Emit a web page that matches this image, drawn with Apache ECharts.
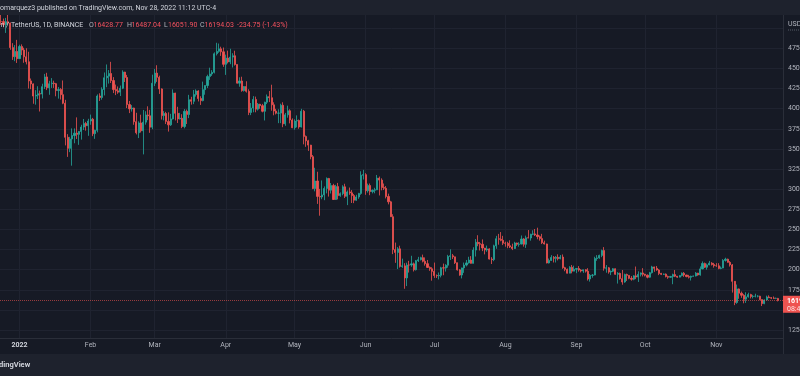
<!DOCTYPE html>
<html>
<head>
<meta charset="utf-8">
<title>BTCUSDT 1D</title>
<script src="https://cdn.jsdelivr.net/npm/echarts@6/dist/echarts.min.js"></script>
<style>
  html, body { margin: 0; padding: 0; background: #161a25; }
  #main { width: 800px; height: 376px; }
</style>
</head>
<body>
<div id="main"></div>
<script>
// Bitcoin / TetherUS, 1D, Binance - values
const firstDay = '2021-12-23';
const firstOpen = 48613;

// daily closes, one line per month (Dec 23 2021 .. Nov 28 2022)
const closes = [
  50838, 50821, 50429, 50809, 50640, 47588, 46464, 47120, 46216,
  47722, 47286, 46446, 45833, 43451, 43082, 41566, 41680, 41864, 41822, 42736, 43946, 42592, 43099, 43177, 43113, 42250, 42375, 41744, 40680, 36445, 35071, 36244, 36660, 36958, 36809, 37160, 37716, 38166, 37881, 38466,
  38690, 36896, 37311, 41575, 41382, 42380, 43840, 44043, 44373, 43495, 42373, 42217, 42053, 42535, 44544, 43873, 40515, 39974, 40080, 38386, 37008, 38230, 37250, 38327, 39219, 39116, 37699, 43160,
  44421, 43892, 42454, 39137, 39400, 38420, 37988, 38730, 41941, 39422, 38729, 38807, 37777, 39671, 39280, 41114, 40917, 41757, 42201, 41262, 41002, 42364, 42882, 43991, 44313, 44511, 46827, 47122, 47434, 47067, 45510,
  46283, 45811, 46407, 46580, 45497, 43170, 43444, 42252, 42753, 42158, 39530, 40074, 41147, 39942, 40552, 40378, 39678, 40801, 41493, 41358, 40480, 39709, 39441, 39450, 40426, 38112, 39235, 39742, 38596, 37630,
  38468, 38525, 37729, 39690, 36552, 36013, 35472, 34038, 30076, 31017, 29103, 29029, 29287, 30086, 31328, 29874, 30444, 28715, 30319, 29201, 29445, 30293, 29109, 29655, 29542, 29201, 28629, 29031, 29469, 31734, 31802,
  29805, 30452, 29700, 29865, 29919, 31373, 31125, 30204, 30110, 29091, 28424, 26574, 22487, 22136, 22583, 20401, 20468, 18970, 20574, 20573, 20723, 19987, 21110, 21237, 21491, 21038, 20743, 20278, 20105, 19785,
  19269, 19243, 19297, 20231, 20190, 20548, 21637, 21731, 21592, 20861, 19971, 19329, 20212, 20569, 20837, 21191, 20780, 22432, 23397, 23224, 23154, 22684, 22451, 22579, 21310, 21254, 22953, 23843, 23774, 23643, 23293,
  23269, 22978, 22818, 22622, 23312, 23150, 23174, 23810, 23149, 23954, 23935, 24403, 24442, 24306, 24102, 23855, 23342, 23191, 20834, 21140, 21516, 21400, 21529, 21368, 21560, 20241, 20037, 19555, 20285, 19811, 20050,
  20131, 19951, 19832, 19986, 19812, 18837, 19290, 19329, 21381, 21460, 21769, 22370, 20173, 20226, 19701, 19803, 20113, 19416, 19537, 18875, 18461, 19401, 19289, 18921, 18807, 19227, 19079, 19412, 19591, 19422,
  19310, 19056, 19623, 20336, 20160, 19955, 19531, 19417, 19446, 19141, 19051, 19157, 19382, 19185, 19068, 19268, 19550, 19334, 19139, 19053, 19172, 19208, 19567, 19345, 20095, 20771, 20295, 20591, 20809, 20627, 20490,
  20483, 20151, 20207, 21148, 21300, 20905, 20591, 18547, 15922, 17601, 17070, 16812, 16330, 16619, 16900, 16663, 16692, 16699, 16700, 16280, 15781, 16226, 16604, 16522, 16458, 16428, 16428.77, 16194.03
];

const highs = [
  51375, 51868, 51200, 51280, 52088, 50704, 48140, 47900, 48548,
  47944, 47990, 47570, 47505, 47070, 43748, 43145, 42300, 42786, 42248, 43100, 44322, 44458, 43459, 43800, 43478, 43200, 42691, 42559, 43505, 41100, 36835, 36499, 37550, 37545, 38919, 37234, 38000, 38720, 38359, 38744,
  39265, 38855, 37387, 41772, 41913, 42656, 44500, 45492, 44799, 45821, 43920, 42992, 42760, 42876, 44769, 44581, 44198, 40959, 40444, 40125, 39494, 38429, 39249, 39843, 39683, 40295, 39855, 44225,
  44949, 45400, 44101, 42527, 39694, 39605, 39547, 39362, 42400, 41977, 40236, 39486, 39310, 39947, 39887, 41718, 41478, 42325, 42400, 42296, 41544, 43361, 42893, 44220, 45094, 44792, 46999, 48190, 48096, 47700, 47600,
  46720, 47213, 47444, 46890, 47200, 45507, 43900, 43970, 42800, 43410, 42414, 40699, 41561, 41500, 40709, 40600, 40595, 40867, 41760, 42199, 42976, 40795, 39980, 39927, 40616, 40797, 39474, 40372, 39925, 38795,
  38675, 39167, 38651, 39980, 39845, 36666, 36129, 35507, 34243, 32658, 32162, 30032, 31083, 30343, 31460, 31400, 30765, 30666, 30545, 30777, 29600, 30487, 30671, 29839, 30200, 29887, 29395, 29300, 29539, 32222, 32399,
  31982, 30690, 30700, 29950, 30170, 31765, 31569, 31345, 30700, 30385, 29440, 28550, 26890, 23363, 22800, 22976, 21365, 20800, 20864, 21090, 21723, 20880, 21200, 21587, 21600, 21868, 21520, 21200, 20400, 20300,
  20876, 19400, 19650, 20353, 20750, 20675, 21838, 22527, 21950, 21600, 20880, 20060, 20250, 20880, 21200, 21600, 21680, 22780, 23800, 24276, 23440, 23756, 22700, 22990, 22660, 21550, 23100, 24199, 24442, 24668, 24200,
  23476, 23465, 23647, 23223, 23460, 23354, 23400, 24245, 23920, 24226, 24918, 24456, 24890, 25047, 25211, 24247, 24447, 23602, 23230, 21382, 21800, 21690, 21690, 21900, 21819, 21886, 20350, 20141, 20430, 20580, 20490,
  20200, 20440, 20055, 20000, 20058, 20180, 19460, 19450, 21600, 21800, 21860, 22488, 22800, 20570, 20330, 19900, 20190, 20150, 19690, 19630, 19956, 19500, 19500, 19310, 19200, 19300, 20385, 19790, 19645, 20185,
  19485, 19395, 19720, 20475, 20365, 20456, 20060, 19600, 19515, 19525, 19260, 19220, 19500, 19950, 19212, 19300, 19650, 19700, 19350, 19350, 19250, 19260, 19700, 19600, 20400, 21020, 20875, 20750, 21085, 20930, 20840,
  20800, 20800, 20393, 21302, 21480, 21365, 21070, 20700, 18590, 18150, 17660, 17280, 16950, 17190, 17134, 17000, 16870, 17010, 16820, 16750, 16290, 16300, 16770, 16810, 16600, 16666, 16530, 16487.04
];

const lows = [
  48050, 50400, 50100, 49412, 50449, 47313, 46060, 45900, 45678,
  46208, 46654, 45700, 45500, 42500, 42420, 40610, 40501, 41200, 39650, 41268, 42447, 42311, 41725, 42578, 42578, 41540, 41251, 41138, 40553, 35440, 34008, 34601, 32917, 35701, 36234, 35507, 36155, 37350, 37268, 36632,
  38000, 36586, 36250, 37055, 40956, 41116, 41645, 42666, 43117, 43187, 41938, 41688, 41850, 41570, 42427, 43315, 40073, 39450, 39639, 38000, 36800, 36350, 37036, 34322, 38014, 38573, 37000, 37450,
  42809, 43334, 41832, 38650, 38550, 38088, 37155, 37855, 38656, 38539, 38223, 38660, 37578, 37555, 38098, 38828, 40500, 40565, 41500, 40900, 40467, 40911, 41734, 42560, 43579, 44070, 44382, 46610, 46944, 46560, 45200,
  44200, 45620, 45530, 45118, 45353, 43121, 42727, 42107, 42125, 42000, 39200, 39200, 39551, 39551, 39766, 39991, 39546, 38536, 40571, 40820, 39751, 39177, 39285, 38200, 38200, 37702, 37870, 38881, 38175, 37578,
  37386, 37680, 37507, 37662, 35570, 35258, 34758, 33713, 30000, 29730, 28170, 26700, 28751, 28630, 29480, 29075, 29460, 28654, 28670, 28730, 29055, 29240, 28892, 28019, 29295, 28282, 28261, 28552, 28800, 29300, 31200,
  29301, 29570, 29250, 29477, 29487, 29880, 29218, 29854, 29892, 28850, 28110, 26560, 21925, 20846, 20070, 20256, 20223, 17622, 17960, 19637, 20348, 19770, 19890, 20950, 21140, 20900, 20500, 20200, 19850, 18630,
  18975, 18966, 18780, 19036, 19305, 19760, 20240, 21200, 21320, 20700, 19880, 19240, 18910, 19600, 20400, 20750, 20750, 20760, 21630, 22909, 22380, 22300, 21900, 22220, 21250, 20700, 21050, 22588, 23100, 23525, 23050,
  22850, 22660, 22680, 22430, 22586, 22950, 22850, 23150, 22860, 22700, 23900, 23600, 24290, 24180, 23773, 23600, 23180, 23130, 20780, 20761, 21070, 20890, 20889, 21150, 21280, 20100, 19800, 19520, 19600, 19540, 19800,
  19560, 19753, 19650, 19600, 19635, 18640, 18511, 19000, 19300, 21100, 21350, 21550, 19870, 19620, 19500, 19320, 19700, 19360, 18270, 18750, 18125, 18370, 18600, 18810, 18630, 18680, 18820, 18471, 19150, 19155,
  19160, 18920, 19000, 19520, 19730, 19860, 19320, 19325, 19330, 19030, 18860, 18975, 18190, 19070, 18980, 19050, 19160, 19100, 19050, 18900, 18650, 19140, 19160, 19250, 19250, 20050, 20200, 20000, 20550, 20520, 20250,
  20350, 20050, 20050, 20180, 21000, 20860, 20380, 17150, 15588, 15755, 16380, 16500, 15815, 15870, 16520, 16420, 16420, 16550, 16550, 16200, 15476, 15700, 16170, 16450, 16340, 16360, 16380, 16051.90
];

const monthStarts = ['2022-01-01', '2022-02-01', '2022-03-01', '2022-04-01', '2022-05-01', '2022-06-01',
                     '2022-07-01', '2022-08-01', '2022-09-01', '2022-10-01', '2022-11-01'];
const monthLabels = ['2022', 'Feb', 'Mar', 'Apr', 'May', 'Jun', 'Jul', 'Aug', 'Sep', 'Oct', 'Nov'];
const priceTicks = [12500, 15000, 17500, 20000, 22500, 25000, 27500, 30000, 32500, 35000,
                    37500, 40000, 42500, 45000, 47500, 50000];

const DAY = 86400000;
const t0 = Date.parse(firstDay + 'T00:00:00Z');
const monthTimes = monthStarts.map(function (d) { return Date.parse(d + 'T00:00:00Z'); });

const candles = closes.map(function (c, i) {
    // market trades 24/7, each day opens where the previous one closed
    const o = i === 0 ? firstOpen : closes[i - 1];
    return [t0 + i * DAY, o, c, Math.min(lows[i], o, c), Math.max(highs[i], o, c)];
});
const lastClose = closes[closes.length - 1];

const UP = '#26a69a', DOWN = '#ef5350';
const TXT = '#b2b5be', GRID = '#1f2330', LINE = '#2a2e39';
const FONT = 'Roboto, "Noto Sans", sans-serif';

const chart = echarts.init(document.getElementById('main'), null, { renderer: 'canvas' });

const jan1 = Date.UTC(2022, 0, 1);

chart.setOption({
    backgroundColor: '#161a25',
    animation: false,
    grid: { left: 0, right: 17, top: 15, bottom: 38, outerBoundsMode: 'none', containLabel: false },
    xAxis: {
        // timestamps on a value axis so the month ticks can be set by hand
        type: 'value',
        min: jan1 - 8.51 * DAY,
        max: jan1 + 333.1 * DAY,
        axisLine: { show: true, lineStyle: { color: LINE } },
        axisTick: { show: false, customValues: monthTimes },
        axisLabel: {
            customValues: monthTimes,
            margin: 4,
            color: TXT,
            fontSize: 7,
            fontFamily: FONT,
            formatter: function (v) {
                const k = monthTimes.indexOf(v);
                if (k === 0) return '{y|' + monthLabels[0] + '}';
                return k >= 0 ? monthLabels[k] : '';
            },
            rich: { y: { color: '#d1d4dc', fontWeight: 'bold', fontSize: 7, fontFamily: FONT } }
        },
        splitLine: { show: true, lineStyle: { color: GRID, width: 1 } }
    },
    yAxis: {
        type: 'value',
        position: 'right',
        min: 11506,
        max: 51640,
        axisLine: { show: true, lineStyle: { color: LINE } },
        axisTick: { show: false, customValues: priceTicks },
        axisLabel: {
            customValues: priceTicks,
            margin: 5,
            color: TXT,
            fontSize: 7,
            fontFamily: FONT,
            formatter: function (v) { return v >= 50000 ? '' : v.toFixed(2); }
        },
        splitLine: { show: true, lineStyle: { color: GRID, width: 1 } }
    },
    series: [{
        type: 'candlestick',
        name: 'BTCUSDT',
        data: candles,
        encode: { x: 0, y: [1, 2, 3, 4] },
        barWidth: 1.6,
        clip: true,
        itemStyle: {
            color: UP, color0: DOWN,
            borderColor: UP, borderColor0: DOWN,
            borderWidth: 0.8
        },
        markLine: {
            silent: true,
            symbol: 'none',
            label: { show: false },
            lineStyle: { color: DOWN, type: 'dotted', width: 1, opacity: 0.6 },
            data: [{ yAxis: lastClose }]
        }
    }]
});

// overlay: header, legend line, price tag, footer
const py = chart.convertToPixel({ yAxisIndex: 0 }, lastClose);

function txt(x, y, s, fill, size, extra) {
    return {
        type: 'text', x: x, y: y, z: 100,
        style: Object.assign({
            text: s, fill: fill, fontSize: size, fontFamily: FONT,
            verticalAlign: 'middle', align: 'left'
        }, extra || {})
    };
}

const RED = '#f7525f';
chart.setOption({
    graphic: [
        { type: 'rect', z: 90, shape: { x: 0, y: 0, width: 800, height: 15 }, style: { fill: '#1e222d' } },
        txt(0, 8, 'omarquez3 published on TradingView.com, Nov 28, 2022 11:12 UTC-4', '#d1d4dc', 7),

        txt(9, 25, 'Bitcoin /', '#d1d4dc', 7, { align: 'right' }),
        txt(11, 25, 'TetherUS, 1D, BINANCE', '#d1d4dc', 7),
        txt(89, 25, 'O', TXT, 7), txt(93.5, 25, '16428.77', RED, 7),
        txt(127, 25, 'H', TXT, 7), txt(131.5, 25, '16487.04', RED, 7),
        txt(164, 25, 'L', TXT, 7), txt(168, 25, '16051.90', RED, 7),
        txt(200, 25, 'C', TXT, 7), txt(204.5, 25, '16194.03', RED, 7),
        txt(237, 25, '-234.75 (-1.43%)', RED, 7),

        txt(788, 24, 'USD', TXT, 7),
        { type: 'line', z: 100, shape: { x1: 788, y1: 30, x2: 800, y2: 30 }, style: { stroke: '#555a66', lineWidth: 1, lineDash: [1, 1] } },

        { type: 'rect', z: 100, shape: { x: 783, y: py - 4.5, width: 20, height: 17 }, style: { fill: DOWN } },
        txt(787, py + 0.5, lastClose.toFixed(2), '#ffffff', 7, { fontWeight: 'bold' }),
        txt(787, py + 8.5, '08:47:52', '#fde0e0', 7),

        { type: 'line', z: 100, shape: { x1: 783.5, y1: 338, x2: 783.5, y2: 354 }, style: { stroke: LINE, lineWidth: 1 } },
        { type: 'rect', z: 100, shape: { x: 0, y: 354, width: 800, height: 22 }, style: { fill: '#1e222d' } },
        txt(-12, 365.5, 'TradingView', '#d1d4dc', 7.5, { fontWeight: 'bold' })
    ]
});
</script>
</body>
</html>
